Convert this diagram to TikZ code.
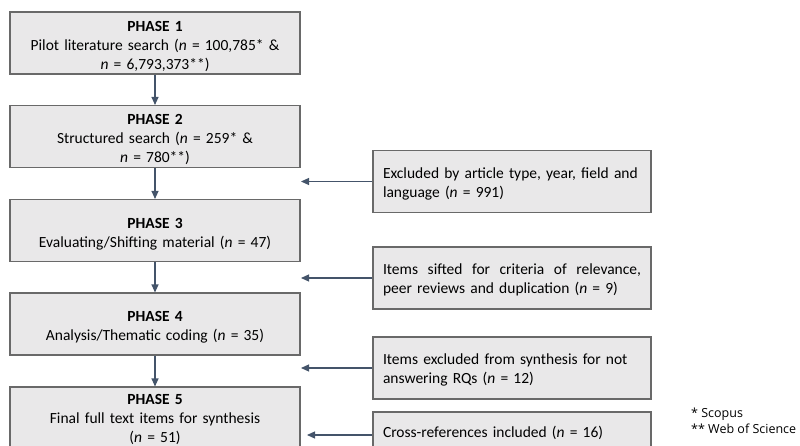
\documentclass[tikz,border=0pt]{standalone}
\usepackage{fontspec}
\setmainfont{Carlito}
\newfontfamily\notefont{Open Sans}
\usetikzlibrary{arrows.meta}
\definecolor{boxfill}{RGB}{233,232,233}
\definecolor{boxdraw}{RGB}{105,105,105}
\definecolor{arrowcol}{RGB}{68,84,106}
\tikzset{
  phasebox/.style={draw=boxdraw, fill=boxfill, line width=1.1pt, minimum width=290pt, minimum height=62pt, text width=284pt, align=center, inner sep=0pt, font=\fontsize{15.5}{19}\selectfont, execute at begin node={\rule{0pt}{17pt}}},
  sidebox/.style={draw=boxdraw, fill=boxfill, line width=1.1pt, minimum width=278pt, minimum height=62pt, text width=258pt, align=left, inner sep=0pt, font=\fontsize{15.5}{19}\selectfont, execute at begin node={\rule{0pt}{15pt}}},
  flow/.style={draw=arrowcol, line width=1.1pt, -{Triangle[length=8pt,width=7pt]}},
  notetext/.style={anchor=west, align=left, inner sep=0pt, font=\notefont\fontsize{12.5}{16}\selectfont}
}
\begin{document}
\begin{tikzpicture}[x=1pt,y=-1pt]
\useasboundingbox (0,0) rectangle (800,446);
\clip (0,0) rectangle (800,446);
\node[phasebox] (p1) at (155,43) {\textbf{PHASE 1}\\Pilot literature search (\textit{n} = 100,785* \&\\\textit{n} = 6,793,373**)};
\node[phasebox] (p2) at (155,136.5) {\textbf{PHASE 2}\\Structured search (\textit{n} = 259* \&\\\textit{n} = 780**)};
\node[phasebox] (p3) at (155,230.5) {\textbf{PHASE 3}\\Evaluating/Shifting material (\textit{n} = 47)};
\node[phasebox] (p4) at (155,324) {\textbf{PHASE 4}\\Analysis/Thematic coding (\textit{n} = 35)};
\node[phasebox, execute at begin node={}, execute at end node={\rule[-6pt]{0pt}{0pt}}] (p5) at (155,418) {\textbf{PHASE 5}\\Final full text items for synthesis\\(\textit{n} = 51)};
\node[sidebox] (s1) at (512,181.5) {Excluded by article type, year, field and\\language (\textit{n} = 991)};
\node[sidebox] (s2) at (512,278) {\hbox to 258pt{Items\hfill sifted\hfill for\hfill criteria\hfill of\hfill relevance,}\\peer reviews and duplication (\textit{n} = 9)};
\node[sidebox] (s3) at (512,368) {Items excluded from synthesis for not\\answering RQs (\textit{n} = 12)};
\node[sidebox, minimum height=46pt, execute at begin node={}, execute at end node={\rule[-10pt]{0pt}{0pt}}] (s4) at (512,435) {Cross-references included (\textit{n} = 16)};
\node[notetext] (fn) at (691,420.5) {* Scopus\\** Web of Science};
\coordinate (t1) at (301,181.5);
\coordinate (t2) at (301,278);
\coordinate (t3) at (301,368);
\coordinate (t4) at (307,435);
\draw[flow] (p1.south) -- (p2.north);
\draw[flow] (p2.south) -- (p3.north);
\draw[flow] (p3.south) -- (p4.north);
\draw[flow] (p4.south) -- (p5.north);
\draw[flow] (s1.west) -- (t1);
\draw[flow] (s2.west) -- (t2);
\draw[flow] (s3.west) -- (t3);
\draw[flow] (s4.west) -- (t4);
\end{tikzpicture}
\end{document}
